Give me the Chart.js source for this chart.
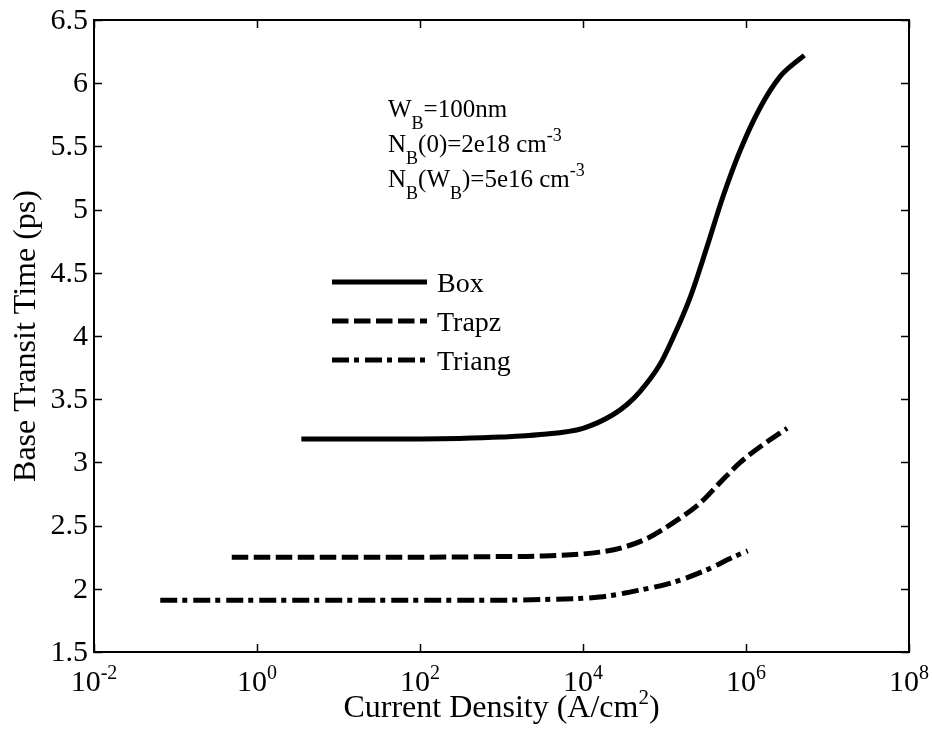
<!DOCTYPE html>
<html>
<head>
<meta charset="utf-8">
<title>Base Transit Time vs Current Density</title>
<script src="https://cdn.jsdelivr.net/npm/chart.js@4"></script>
<style>
  html, body { margin: 0; padding: 0; background: #fff; }
  #transitChart { display: block; }
</style>
</head>
<body>
<canvas id="transitChart" width="932" height="745"></canvas>
<script>
// current density (A/cm^2) and base transit time (ps) for each doping profile
const boxJ = [3.5, 30, 300, 1e3, 3e3, 1e4, 2.3e4, 3.5e4, 5e4, 8.7e4, 1.26e5, 2.05e5, 3.3e5, 5.2e5, 8.5e5, 1.5e6, 2.6e6, 3.7e6, 5.2e6];
const boxTau = [3.185, 3.185, 3.19, 3.20, 3.22, 3.27, 3.375, 3.46, 3.56, 3.77, 3.98, 4.30, 4.70, 5.10, 5.47, 5.81, 6.05, 6.145, 6.22];

const trapzJ = [0.49, 10, 100, 950, 3.2e3, 1.6e4, 3.2e4, 6.2e4, 1.26e5, 2.75e5, 4.8e5, 8.5e5, 1.62e6, 3.2e6];
const trapzTau = [2.25, 2.25, 2.25, 2.255, 2.26, 2.29, 2.33, 2.40, 2.52, 2.68, 2.84, 3.0, 3.14, 3.27];

const triangJ = [0.065, 1, 10, 100, 950, 3.2e3, 1.6e4, 5e4, 1.26e5, 3.3e5, 6.9e5, 1.05e6];
const triangTau = [1.91, 1.91, 1.91, 1.91, 1.91, 1.915, 1.935, 1.99, 2.05, 2.15, 2.25, 2.30];

const seriesNames = ['Box', 'Trapz', 'Triang'];

const xTicks = [1e-2, 1e0, 1e2, 1e4, 1e6, 1e8];
const yTicks = [1.5, 2, 2.5, 3, 3.5, 4, 4.5, 5, 5.5, 6, 6.5];

const FONT = '"Liberation Serif", "Times New Roman", serif';

function toPoints(xs, ys) {
  return xs.map((x, i) => ({ x: x, y: ys[i] }));
}

// draws a run of text pieces with sub/superscripts; dy > 0 moves down
function drawRich(ctx, parts, x, y, align) {
  let total = 0;
  parts.forEach(p => {
    ctx.font = p.s + 'px ' + FONT;
    p.w = ctx.measureText(p.t).width;
    total += p.w;
  });
  let cx = align === 'center' ? x - total / 2 : x;
  parts.forEach(p => {
    ctx.font = p.s + 'px ' + FONT;
    ctx.fillText(p.t, cx, y + (p.dy || 0));
    cx += p.w;
  });
}

const framePlugin = {
  id: 'frame',
  afterDraw: (chart) => {
    const ctx = chart.ctx;
    const area = chart.chartArea;
    const xs = chart.scales.x;
    const ys = chart.scales.y;
    const tickLen = 8;

    ctx.save();
    ctx.strokeStyle = '#000';
    ctx.fillStyle = '#000';
    ctx.lineWidth = 2;
    ctx.setLineDash([]);
    ctx.strokeRect(area.left, area.top, area.right - area.left, area.bottom - area.top);

    // inward tick marks on all four sides
    ctx.lineWidth = 1.5;
    ctx.beginPath();
    xTicks.forEach(v => {
      const px = Math.round(xs.getPixelForValue(v)) + 0.5;
      ctx.moveTo(px, area.bottom);
      ctx.lineTo(px, area.bottom - tickLen);
      ctx.moveTo(px, area.top);
      ctx.lineTo(px, area.top + tickLen);
    });
    yTicks.forEach(v => {
      const py = Math.round(ys.getPixelForValue(v)) + 0.5;
      ctx.moveTo(area.left, py);
      ctx.lineTo(area.left + tickLen, py);
      ctx.moveTo(area.right, py);
      ctx.lineTo(area.right - tickLen, py);
    });
    ctx.stroke();

    // tick labels
    ctx.textBaseline = 'middle';
    ctx.textAlign = 'right';
    ctx.font = '30px ' + FONT;
    yTicks.forEach(v => {
      ctx.fillText(String(v), area.left - 6, ys.getPixelForValue(v) + 1);
    });

    ctx.textBaseline = 'alphabetic';
    ctx.textAlign = 'left';
    xTicks.forEach(v => {
      const exp = Math.round(Math.log10(v));
      drawRich(ctx, [
        { t: '10', s: 30 },
        { t: String(exp), s: 20, dy: -12 }
      ], xs.getPixelForValue(v), area.bottom + 39, 'center');
    });

    // axis titles
    drawRich(ctx, [
      { t: 'Current Density (A/cm', s: 32 },
      { t: '2', s: 21, dy: -13 },
      { t: ')', s: 32 }
    ], (area.left + area.right) / 2, area.bottom + 65, 'center');

    ctx.save();
    ctx.translate(35, (area.top + area.bottom) / 2);
    ctx.rotate(-Math.PI / 2);
    ctx.textAlign = 'center';
    ctx.font = '32px ' + FONT;
    ctx.fillText('Base Transit Time (ps)', 0, 0);
    ctx.restore();

    // device parameters
    const ax = 388;
    drawRich(ctx, [
      { t: 'W', s: 25 }, { t: 'B', s: 18, dy: 12 }, { t: '=100nm', s: 25 }
    ], ax, 117, 'left');
    drawRich(ctx, [
      { t: 'N', s: 25 }, { t: 'B', s: 18, dy: 12 }, { t: '(0)=2e18 cm', s: 25 },
      { t: '-3', s: 18, dy: -11 }
    ], ax, 152, 'left');
    drawRich(ctx, [
      { t: 'N', s: 25 }, { t: 'B', s: 18, dy: 12 }, { t: '(W', s: 25 },
      { t: 'B', s: 18, dy: 12 }, { t: ')=5e16 cm', s: 25 }, { t: '-3', s: 18, dy: -11 }
    ], ax, 187, 'left');

    // legend built from the dataset styles
    chart.data.datasets.forEach((ds, i) => {
      const ly = 282 + i * 39;
      ctx.lineWidth = ds.borderWidth;
      ctx.lineCap = 'butt';
      ctx.setLineDash(ds.borderDash || []);
      ctx.beginPath();
      ctx.moveTo(332, ly);
      ctx.lineTo(427, ly);
      ctx.stroke();
      ctx.setLineDash([]);
      ctx.font = '28px ' + FONT;
      ctx.fillText(ds.label, 437, ly + 10);
    });
    ctx.restore();
  }
};

const ctx = document.getElementById('transitChart').getContext('2d');
new Chart(ctx, {
  type: 'line',
  data: {
    datasets: [{
      label: seriesNames[0],
      data: toPoints(boxJ, boxTau),
      borderColor: '#000',
      borderWidth: 5,
      borderDash: []
    }, {
      label: seriesNames[1],
      data: toPoints(trapzJ, trapzTau),
      borderColor: '#000',
      borderWidth: 5,
      borderDash: [16.5, 5.5]
    }, {
      label: seriesNames[2],
      data: toPoints(triangJ, triangTau),
      borderColor: '#000',
      borderWidth: 5,
      borderDash: [17, 5, 5, 6]
    }]
  },
  options: {
    responsive: false,
    animation: false,
    layout: {
      padding: { left: 94, top: 20, right: 23, bottom: 93 }
    },
    elements: {
      point: { radius: 0 },
      line: { cubicInterpolationMode: 'monotone', borderCapStyle: 'butt', borderJoinStyle: 'round', fill: false }
    },
    scales: {
      x: { type: 'logarithmic', min: 1e-2, max: 1e8, display: false },
      y: { type: 'linear', min: 1.5, max: 6.5, display: false }
    },
    plugins: {
      legend: { display: false },
      tooltip: { enabled: false }
    }
  },
  plugins: [framePlugin]
});
</script>
</body>
</html>
